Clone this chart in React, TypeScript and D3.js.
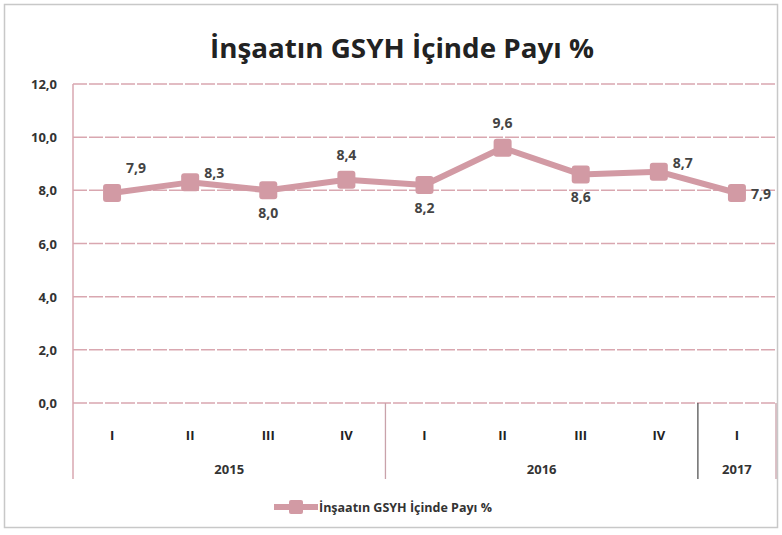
import React, { useEffect, useRef } from 'react';
import * as d3 from 'd3';

// quarters and values
const quarters = ['I', 'II', 'III', 'IV', 'I', 'II', 'III', 'IV', 'I'];
const years = ['2015', '2015', '2015', '2015', '2016', '2016', '2016', '2016', '2017'];
const shares = [7.9, 8.3, 8.0, 8.4, 8.2, 9.6, 8.6, 8.7, 7.9];
// where each data label sits relative to its point
const labelPos = ['above', 'right', 'below', 'above', 'below', 'above', 'below', 'right', 'right'];
const yTicks = [0, 2, 4, 6, 8, 10, 12];

const seriesName = 'İnşaatın GSYH İçinde Payı %';
const pink = '#d29aa4';
const gridPink = '#d9a7b0';
const textColor = '#333333';

const App = () => {
  const chartRef = useRef<SVGSVGElement>(null);

  useEffect(() => {
    document.body.style.margin = '0';
    const width = 782;
    const height = 535;
    const margin = { top: 84, right: 6, bottom: 132, left: 73 };
    const font = "'Open Sans', 'Noto Sans', sans-serif";

    const svg = d3.select(chartRef.current);
    svg.selectAll('*').remove();

    // outer frame
    svg
      .append('rect')
      .attr('x', 4.5)
      .attr('y', 4.5)
      .attr('width', width - 9)
      .attr('height', height - 12)
      .attr('fill', 'white')
      .attr('stroke', '#c8c8c8')
      .attr('stroke-width', 1.5);

    const x = d3
      .scaleBand()
      .domain(d3.range(quarters.length).map(String))
      .range([margin.left, width - margin.right])
      .padding(0);

    const y = d3
      .scaleLinear()
      .domain([0, 12])
      .range([height - margin.bottom + 0, margin.top]);

    // title
    svg
      .append('text')
      .attr('x', 402)
      .attr('y', 58)
      .attr('text-anchor', 'middle')
      .attr('font-family', font)
      .attr('font-weight', 'bold')
      .attr('font-size', 26)
      .attr('fill', '#222')
      .attr('textLength', 384)
      .attr('lengthAdjust', 'spacingAndGlyphs')
      .text(seriesName);

    // gridlines
    svg
      .append('g')
      .selectAll('line')
      .data(yTicks)
      .enter()
      .append('line')
      .attr('x1', margin.left)
      .attr('x2', width - margin.right)
      .attr('y1', (d) => y(d))
      .attr('y2', (d) => y(d))
      .attr('stroke', gridPink)
      .attr('stroke-width', 1.5)
      .attr('stroke-dasharray', '14,2');

    // y tick labels
    svg
      .append('g')
      .selectAll('text')
      .data(yTicks)
      .enter()
      .append('text')
      .attr('x', margin.left - 16)
      .attr('y', (d) => y(d) + 5)
      .attr('text-anchor', 'end')
      .attr('font-family', font)
      .attr('font-weight', 'bold')
      .attr('font-size', 13)
      .attr('fill', textColor)
      .text((d) => d3.format('.1f')(d).replace('.', ','));

    const axisBottom = y(0);
    const catBottom = axisBottom + 76;

    // left axis line extended into category area
    svg
      .append('line')
      .attr('x1', margin.left)
      .attr('x2', margin.left)
      .attr('y1', margin.top)
      .attr('y2', catBottom)
      .attr('stroke', gridPink)
      .attr('stroke-width', 1.5);

    // year separators
    const yearStarts = years
      .map((yr, i) => (i > 0 && yr !== years[i - 1] ? i : -1))
      .filter((i) => i > 0);
    svg
      .append('g')
      .selectAll('line')
      .data([...yearStarts, quarters.length])
      .enter()
      .append('line')
      .attr('x1', (i) => (i < quarters.length ? x(String(i)) : width - margin.right))
      .attr('x2', (i) => (i < quarters.length ? x(String(i)) : width - margin.right))
      .attr('y1', axisBottom)
      .attr('y2', catBottom)
      .attr('stroke', (i) => (i === 8 ? '#555' : '#c9a2aa'))
      .attr('stroke-width', 1.3);

    // quarter labels
    svg
      .append('g')
      .selectAll('text')
      .data(quarters)
      .enter()
      .append('text')
      .attr('x', (d, i) => x(String(i)) + x.bandwidth() / 2)
      .attr('y', axisBottom + 37)
      .attr('text-anchor', 'middle')
      .attr('font-family', font)
      .attr('font-weight', 'bold')
      .attr('font-size', 13)
      .attr('fill', '#222')
      .text((d) => d);

    // year labels
    const yearGroups = d3.groups(
      years.map((yr, i) => ({ yr, i })),
      (d) => d.yr
    );
    svg
      .append('g')
      .selectAll('text')
      .data(yearGroups)
      .enter()
      .append('text')
      .attr('x', ([, items]) => {
        const a = x(String(items[0].i));
        const b = x(String(items[items.length - 1].i)) + x.bandwidth();
        return (a + b) / 2;
      })
      .attr('y', axisBottom + 71)
      .attr('text-anchor', 'middle')
      .attr('font-family', font)
      .attr('font-weight', 'bold')
      .attr('font-size', 13)
      .attr('fill', textColor)
      .text(([yr]) => yr);

    // series line
    const line = d3
      .line<number>()
      .x((d, i) => x(String(i)) + x.bandwidth() / 2)
      .y((d) => y(d));

    svg
      .append('path')
      .datum(shares)
      .attr('d', line)
      .attr('fill', 'none')
      .attr('stroke', pink)
      .attr('stroke-width', 6)
      .attr('stroke-linejoin', 'round');

    // markers
    const size = 18;
    svg
      .append('g')
      .selectAll('rect')
      .data(shares)
      .enter()
      .append('rect')
      .attr('x', (d, i) => x(String(i)) + x.bandwidth() / 2 - size / 2)
      .attr('y', (d) => y(d) - size / 2)
      .attr('width', size)
      .attr('height', size)
      .attr('rx', 3)
      .attr('fill', pink);

    // data labels
    const offsets: Record<string, [number, number, string]> = {
      above: [0, -20, 'middle'],
      below: [0, 28, 'middle'],
      right: [14, -4, 'start'],
    };
    svg
      .append('g')
      .selectAll('text')
      .data(shares)
      .enter()
      .append('text')
      .attr('x', (d, i) => {
        const cx = x(String(i)) + x.bandwidth() / 2;
        if (i === 0) return cx + 24;
        return cx + offsets[labelPos[i]][0];
      })
      .attr('y', (d, i) => y(d) + offsets[labelPos[i]][1] + (i === 8 ? 10 : 0))
      .attr('text-anchor', (d, i) => offsets[labelPos[i]][2])
      .attr('font-family', font)
      .attr('font-weight', 'bold')
      .attr('font-size', 14)
      .attr('fill', '#444')
      .text((d) => d3.format('.1f')(d).replace('.', ','));

    // legend
    const lg = svg.append('g').attr('transform', 'translate(274,507)');
    lg.append('line')
      .attr('x1', 0)
      .attr('x2', 44)
      .attr('y1', 0)
      .attr('y2', 0)
      .attr('stroke', pink)
      .attr('stroke-width', 6);
    lg.append('rect')
      .attr('x', 22 - 7)
      .attr('y', -7)
      .attr('width', 14)
      .attr('height', 14)
      .attr('rx', 2)
      .attr('fill', pink);
    lg.append('text')
      .attr('x', 45)
      .attr('y', 5)
      .attr('font-family', font)
      .attr('font-weight', 'bold')
      .attr('font-size', 12.5)
      .attr('fill', textColor)
      .text(seriesName);

    return () => {
      svg.selectAll('*').remove();
    };
  }, []);

  return <svg ref={chartRef} width={782} height={535} style={{ display: 'block' }}></svg>;
};

export default App;
